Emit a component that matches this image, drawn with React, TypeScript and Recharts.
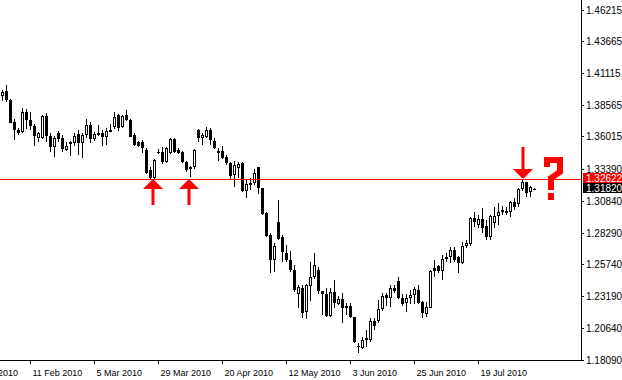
import { ComposedChart, Bar, XAxis, YAxis, ReferenceLine, ReferenceDot } from 'recharts'

// daily EUR/USD candles (one entry per bar)
const opens = [
  1.3928, 1.3971, 1.3898, 1.3724, 1.3657, 1.3639, 1.3800, 1.3738, 1.3689, 1.3595,
  1.3595, 1.3770, 1.3609, 1.3523, 1.3630, 1.3590, 1.3499, 1.3545, 1.3550, 1.3623,
  1.3555, 1.3617, 1.3697, 1.3583, 1.3627, 1.3635, 1.3603, 1.3651, 1.3684, 1.3778,
  1.3684, 1.3778, 1.3738, 1.3617, 1.3563, 1.3563, 1.3497, 1.3336, 1.3269, 1.3483,
  1.3483, 1.3402, 1.3470, 1.3583, 1.3497, 1.3483, 1.3402, 1.3342, 1.3362, 1.3657,
  1.3590, 1.3603, 1.3657, 1.3571, 1.3470, 1.3489, 1.3443, 1.3390, 1.3296, 1.3349,
  1.3390, 1.3167, 1.3223, 1.3229, 1.3357, 1.3189, 1.2993, 1.2814, 1.2613, 1.2920,
  1.2800, 1.2666, 1.2613, 1.2532, 1.2340, 1.2385, 1.2192, 1.2406, 1.2479, 1.2532,
  1.2364, 1.2340, 1.2163, 1.2358, 1.2259, 1.2299, 1.2224, 1.2243, 1.2157, 1.1921,
  1.1908, 1.1970, 1.1970, 1.2122, 1.2122, 1.2216, 1.2331, 1.2305, 1.2385, 1.2446,
  1.2309, 1.2264, 1.2305, 1.2331, 1.2372, 1.2278, 1.2176, 1.2229, 1.2546, 1.2564,
  1.2524, 1.2618, 1.2640, 1.2693, 1.2640, 1.2591, 1.2725, 1.2739, 1.2948, 1.2893,
  1.2940, 1.2886, 1.2800, 1.2908, 1.2966, 1.3001, 1.3006, 1.3001, 1.3081, 1.3063,
  1.3183, 1.3237, 1.3159, 1.3182,
]
const highs = [
  1.3979, 1.4021, 1.3904, 1.3744, 1.3671, 1.3836, 1.3826, 1.3800, 1.3703, 1.3638,
  1.3778, 1.3791, 1.3635, 1.3609, 1.3651, 1.3617, 1.3563, 1.3569, 1.3630, 1.3657,
  1.3630, 1.3746, 1.3719, 1.3639, 1.3700, 1.3657, 1.3673, 1.3706, 1.3804, 1.3786,
  1.3778, 1.3818, 1.3744, 1.3630, 1.3571, 1.3577, 1.3510, 1.3362, 1.3422, 1.3502,
  1.3523, 1.3518, 1.3595, 1.3590, 1.3510, 1.3491, 1.3410, 1.3368, 1.3502, 1.3663,
  1.3630, 1.3679, 1.3671, 1.3590, 1.3510, 1.3529, 1.3457, 1.3402, 1.3410, 1.3402,
  1.3402, 1.3256, 1.3269, 1.3341, 1.3362, 1.3191, 1.3001, 1.2827, 1.2747, 1.3095,
  1.2813, 1.2733, 1.2685, 1.2572, 1.2412, 1.2412, 1.2420, 1.2599, 1.2672, 1.2559,
  1.2366, 1.2385, 1.2385, 1.2452, 1.2323, 1.2345, 1.2269, 1.2269, 1.2157, 1.1948,
  1.1991, 1.2050, 1.2144, 1.2144, 1.2291, 1.2345, 1.2345, 1.2412, 1.2412, 1.2474,
  1.2339, 1.2339, 1.2372, 1.2393, 1.2412, 1.2286, 1.2278, 1.2532, 1.2613, 1.2572,
  1.2653, 1.2666, 1.2719, 1.2719, 1.2645, 1.2760, 1.2773, 1.2961, 1.3000, 1.2974,
  1.3028, 1.2934, 1.2974, 1.3041, 1.3068, 1.3047, 1.3036, 1.3089, 1.3108, 1.3189,
  1.3262, 1.3242, 1.3204, 1.3190,
]
const lows = [
  1.3890, 1.3884, 1.3712, 1.3577, 1.3617, 1.3630, 1.3663, 1.3657, 1.3531, 1.3563,
  1.3582, 1.3563, 1.3483, 1.3443, 1.3563, 1.3483, 1.3489, 1.3451, 1.3531, 1.3457,
  1.3435, 1.3590, 1.3550, 1.3569, 1.3608, 1.3529, 1.3537, 1.3645, 1.3663, 1.3651,
  1.3671, 1.3730, 1.3599, 1.3531, 1.3523, 1.3470, 1.3304, 1.3264, 1.3264, 1.3465,
  1.3384, 1.3394, 1.3465, 1.3475, 1.3465, 1.3394, 1.3322, 1.3277, 1.3346, 1.3563,
  1.3537, 1.3590, 1.3537, 1.3502, 1.3410, 1.3422, 1.3376, 1.3261, 1.3197, 1.3269,
  1.3162, 1.3108, 1.3175, 1.3216, 1.3143, 1.2974, 1.2800, 1.2511, 1.2519, 1.2773,
  1.2599, 1.2599, 1.2514, 1.2358, 1.2224, 1.2149, 1.2136, 1.2286, 1.2458, 1.2340,
  1.2171, 1.2152, 1.2152, 1.2224, 1.2251, 1.2104, 1.2171, 1.2144, 1.1948, 1.1868,
  1.1894, 1.1916, 1.1950, 1.2050, 1.2109, 1.2205, 1.2243, 1.2232, 1.2350, 1.2297,
  1.2243, 1.2196, 1.2259, 1.2259, 1.2259, 1.2144, 1.2157, 1.2224, 1.2474, 1.2511,
  1.2452, 1.2599, 1.2586, 1.2599, 1.2511, 1.2580, 1.2706, 1.2728, 1.2880, 1.2867,
  1.2832, 1.2773, 1.2773, 1.2867, 1.2894, 1.2974, 1.2974, 1.2956, 1.3014, 1.3041,
  1.3170, 1.3122, 1.3116, 1.3172,
]
const closes = [
  1.3960, 1.3898, 1.3716, 1.3657, 1.3635, 1.3800, 1.3738, 1.3692, 1.3611, 1.3630,
  1.3770, 1.3609, 1.3523, 1.3590, 1.3585, 1.3505, 1.3531, 1.3559, 1.3611, 1.3550,
  1.3617, 1.3697, 1.3583, 1.3623, 1.3635, 1.3599, 1.3651, 1.3661, 1.3760, 1.3671,
  1.3770, 1.3738, 1.3603, 1.3537, 1.3531, 1.3510, 1.3309, 1.3269, 1.3416, 1.3470,
  1.3402, 1.3510, 1.3583, 1.3483, 1.3470, 1.3402, 1.3336, 1.3362, 1.3497, 1.3590,
  1.3617, 1.3657, 1.3577, 1.3510, 1.3489, 1.3430, 1.3390, 1.3288, 1.3376, 1.3384,
  1.3167, 1.3221, 1.3234, 1.3314, 1.3189, 1.2982, 1.2806, 1.2613, 1.2725, 1.2779,
  1.2679, 1.2613, 1.2532, 1.2372, 1.2393, 1.2189, 1.2412, 1.2479, 1.2572, 1.2364,
  1.2337, 1.2163, 1.2358, 1.2265, 1.2299, 1.2224, 1.2245, 1.2152, 1.1956, 1.1913,
  1.1970, 1.1984, 1.2122, 1.2082, 1.2216, 1.2326, 1.2305, 1.2385, 1.2366, 1.2305,
  1.2256, 1.2305, 1.2331, 1.2380, 1.2270, 1.2184, 1.2237, 1.2524, 1.2524, 1.2524,
  1.2618, 1.2639, 1.2693, 1.2613, 1.2591, 1.2725, 1.2747, 1.2948, 1.2920, 1.2940,
  1.2867, 1.2800, 1.2966, 1.2966, 1.3001, 1.3014, 1.2988, 1.3081, 1.3041, 1.3181,
  1.3237, 1.3149, 1.3196, 1.3182,
]

// bar index of each date label on the time axis
const dateTicks = [-9, 7, 23, 39, 55, 71, 87, 103, 119]
const dateLabels = [
  '20 Jan 2010', '11 Feb 2010', '5 Mar 2010', '29 Mar 2010', '20 Apr 2010',
  '12 May 2010', '3 Jun 2010', '25 Jun 2010', '19 Jul 2010',
]
const priceTicks = [
  1.1809, 1.2064, 1.2319, 1.2574, 1.2829, 1.3084,
  1.3339, 1.36015, 1.38565, 1.41115, 1.43665, 1.46215,
]

const lineLevel = 1.32622
const bidPrice = 1.3182
const upArrowBars = [37.7, 46.55]
const downArrowBars = [130.05]
const questionBar = 136

const data = opens.map((open, i) => ({
  i,
  open,
  high: highs[i],
  low: lows[i],
  close: closes[i],
}))

const FONT = '"Liberation Sans", Arial, sans-serif'
const RED = '#FF0000'

function Candle(props: any) {
  const { x, y, width, height, payload } = props
  if (!payload) return null
  const { open, close, high, low } = payload
  const top = Math.min(y, y + height)
  const h = Math.abs(height)
  const toY = (v: number) => (high === low ? top : top + ((high - v) / (high - low)) * h)
  const cx = Math.floor(x + width / 2) + 0.5
  const yH = Math.round(toY(high))
  const yL = Math.max(Math.round(toY(low)), yH + 1)
  const yO = toY(open)
  const yC = toY(close)
  const bTop = Math.round(Math.min(yO, yC))
  const bBot = Math.round(Math.max(yO, yC))
  const bh = bBot - bTop

  let body
  if (bh < 1) {
    body = <line x1={cx - 1.5} x2={cx + 1.5} y1={bTop + 0.5} y2={bTop + 0.5} stroke="#000" />
  } else if (close > open) {
    body = <rect x={cx - 1} y={bTop + 0.5} width={2} height={Math.max(bh - 1, 1)} fill="#fff" stroke="#000" />
  } else {
    body = <rect x={cx - 1.5} y={bTop} width={3} height={bh} fill="#000" />
  }
  return (
    <g>
      <line x1={cx} x2={cx} y1={yH} y2={yL} stroke="#000" />
      {body}
    </g>
  )
}

function DateTick(props: any) {
  const { x, y, payload } = props
  const label = dateLabels[dateTicks.indexOf(payload.value)]
  const tx = Math.floor(x) + 0.5
  return (
    <g>
      <line x1={tx} x2={tx} y1={y} y2={y + 4} stroke="#000" />
      <text x={tx + 2} y={y + 16} fontSize={9} fontFamily={FONT} fill="#000">
        {label}
      </text>
    </g>
  )
}

function PriceTag(props: any) {
  const { viewBox, fill, text } = props
  const x = viewBox.x + viewBox.width + 2
  const y = Math.round(viewBox.y) - 6
  return (
    <g>
      <rect x={x} y={y} width={39} height={10} fill={fill} />
      <text x={x + 3} y={y + 8.5} fontSize={10} fontFamily={FONT} fill="#fff">
        {text}
      </text>
    </g>
  )
}

function UpArrow({ cx, cy }: any) {
  const x = Math.round(cx)
  const y = Math.round(cy)
  return (
    <g>
      <polygon points={`${x},${y} ${x + 10},${y + 10} ${x - 10},${y + 10}`} fill={RED} />
      <rect x={x - 1.5} y={y + 10} width={3} height={16} fill={RED} />
    </g>
  )
}

function DownArrow({ cx, cy }: any) {
  const x = Math.round(cx)
  const y = Math.round(cy)
  return (
    <g>
      <polygon points={`${x},${y} ${x + 10},${y - 10} ${x - 10},${y - 10}`} fill={RED} />
      <rect x={x - 1.5} y={y - 32} width={3} height={22} fill={RED} />
    </g>
  )
}

function Question({ cx, cy }: any) {
  const x = Math.round(cx)
  const y = Math.round(cy)
  const d = `M ${x} ${y - 12} L ${x} ${y - 19} L ${x + 13} ${y - 19} L ${x + 13} ${y - 7} L ${x + 4} ${y - 1} L ${x + 4} ${y + 11}`
  return (
    <g>
      <path d={d} stroke={RED} strokeWidth={6} fill="none" strokeLinejoin="miter" />
      <rect x={x + 1} y={y + 14} width={6} height={7} fill={RED} />
    </g>
  )
}

export default function App() {
  return (
    <div style={{ position: 'absolute', left: 0, top: 0, background: '#fff' }}>
      <style>{`
        .recharts-cartesian-axis-line, .recharts-cartesian-axis-tick-line, .recharts-reference-line-line { shape-rendering: crispEdges; }
      `}</style>
      <ComposedChart width={622} height={380} data={data} margin={{ top: 0, right: 0, bottom: 0, left: 0 }}>
        <XAxis
          type="number"
          dataKey="i"
          domain={[-0.625, 144.625]}
          allowDataOverflow
          ticks={dateTicks}
          interval={0}
          height={20}
          tickSize={0}
          tickMargin={0}
          tickLine={false}
          axisLine={{ stroke: '#000' }}
          tick={(p: any) => <DateTick {...p} />}
        />
        <YAxis
          orientation="right"
          type="number"
          domain={[1.1809, 1.4702]}
          allowDataOverflow
          ticks={priceTicks}
          interval={0}
          width={41}
          tickSize={3}
          tickMargin={2}
          axisLine={{ stroke: '#000' }}
          tickLine={{ stroke: '#000' }}
          tick={{ fontSize: 10, fill: '#000', fontFamily: FONT }}
          tickFormatter={(v: number) => v.toFixed(5)}
        />
        <ReferenceLine
          y={lineLevel}
          stroke={RED}
          strokeWidth={1}
          label={<PriceTag fill={RED} text={lineLevel.toFixed(5)} />}
        />
        <ReferenceLine
          y={bidPrice}
          stroke="none"
          label={<PriceTag fill="#000" text={bidPrice.toFixed(5)} />}
        />
        <Bar
          dataKey={(d: any) => [d.low, d.high]}
          barSize={3}
          shape={(p: any) => <Candle {...p} />}
          isAnimationActive={false}
        />
        {upArrowBars.map((b) => (
          <ReferenceDot key={b} x={b} y={lineLevel} shape={(p: any) => <UpArrow {...p} />} />
        ))}
        {downArrowBars.map((b) => (
          <ReferenceDot key={b} x={b} y={lineLevel} shape={(p: any) => <DownArrow {...p} />} />
        ))}
        <ReferenceDot x={questionBar} y={lineLevel} shape={(p: any) => <Question {...p} />} />
      </ComposedChart>
    </div>
  )
}
